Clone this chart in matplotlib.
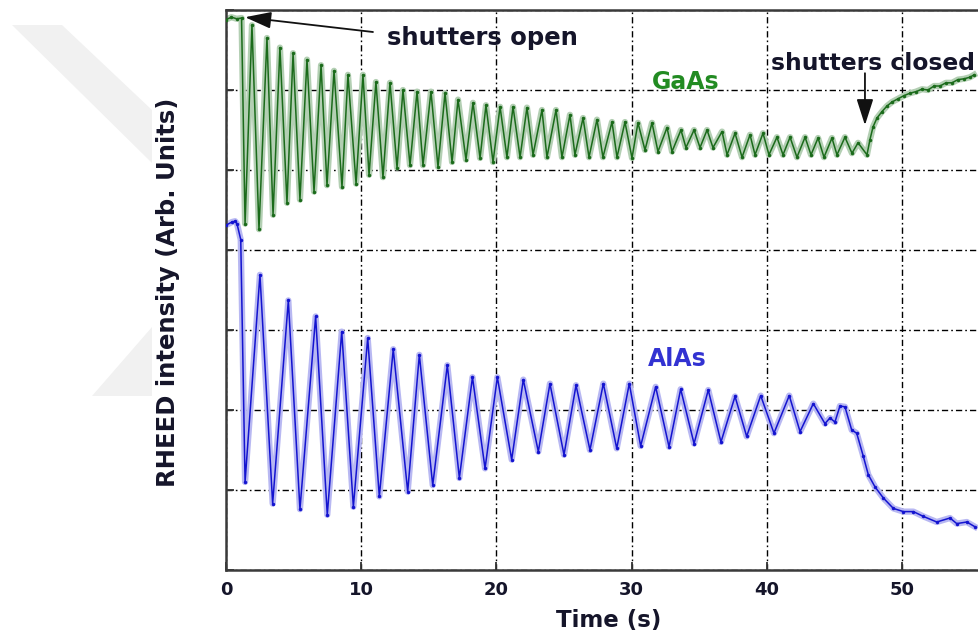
import matplotlib
matplotlib.use("Agg")
import matplotlib.pyplot as plt
from matplotlib.patches import Polygon

# RHEED traces (time in s, intensity in arb. units)
gaas_t = [0.00, 0.40, 0.80, 1.15, 1.41, 1.92, 2.44, 3.03, 3.48, 3.99,
          4.51, 4.96, 5.47, 5.99, 6.51, 7.03, 7.47, 7.99, 8.58, 9.02,
          9.62, 10.13, 10.58, 11.09, 11.61, 12.13, 12.65, 13.09, 13.61, 14.13,
          14.57, 15.16, 15.68, 16.20, 16.72, 17.16, 17.75, 18.27, 18.79, 19.23,
          19.75, 20.27, 20.78, 21.23, 21.75, 22.26, 22.71, 23.37, 23.74, 24.41,
          24.85, 25.44, 25.81, 26.41, 26.85, 27.44, 27.88, 28.55, 28.92, 29.51,
          30.03, 30.47, 30.99, 31.51, 31.95, 32.62, 32.99, 33.65, 34.02, 34.62,
          35.06, 35.58, 36.02, 36.69, 37.06, 37.65, 38.17, 38.76, 39.13, 39.72,
          40.16, 40.75, 41.20, 41.72, 42.23, 42.83, 43.27, 43.79, 44.23, 44.82,
          45.19, 45.78, 46.30, 46.75, 47.41, 47.63, 47.86, 48.15, 48.52, 48.89,
          49.26, 49.70, 50.15, 50.59, 51.04, 51.48, 51.92, 52.37, 52.81, 53.25,
          53.70, 54.14, 54.59, 55.03, 55.33]
gaas_v = [6.88, 6.91, 6.89, 6.90, 4.33, 6.81, 4.26, 6.65, 4.44, 6.53,
          4.59, 6.46, 4.63, 6.38, 4.73, 6.31, 4.81, 6.24, 4.79, 6.19,
          4.83, 6.19, 4.94, 6.10, 4.91, 6.09, 5.03, 6.00, 5.06, 5.98,
          5.06, 5.98, 5.04, 5.96, 5.10, 5.88, 5.13, 5.84, 5.15, 5.81,
          5.10, 5.79, 5.16, 5.79, 5.16, 5.78, 5.19, 5.75, 5.16, 5.75,
          5.16, 5.69, 5.19, 5.65, 5.16, 5.63, 5.16, 5.60, 5.16, 5.60,
          5.15, 5.59, 5.25, 5.59, 5.23, 5.53, 5.23, 5.50, 5.28, 5.50,
          5.28, 5.50, 5.28, 5.48, 5.19, 5.46, 5.16, 5.44, 5.19, 5.46,
          5.19, 5.41, 5.19, 5.41, 5.16, 5.41, 5.19, 5.40, 5.16, 5.40,
          5.19, 5.41, 5.21, 5.34, 5.19, 5.38, 5.54, 5.65, 5.73, 5.80,
          5.85, 5.89, 5.93, 5.96, 5.98, 6.01, 6.00, 6.05, 6.05, 6.09,
          6.09, 6.13, 6.14, 6.16, 6.19]

alas_t = [0.00, 0.44, 0.67, 0.81, 1.09, 1.41, 2.51, 3.45, 4.61, 5.47,
          6.63, 7.49, 8.56, 9.42, 10.48, 11.34, 12.37, 13.44, 14.30, 15.29,
          16.37, 17.26, 18.23, 19.16, 20.07, 21.13, 21.99, 23.10, 23.96, 25.00,
          25.89, 26.92, 27.91, 28.90, 29.83, 30.67, 31.78, 32.77, 33.63, 34.62,
          35.67, 36.61, 37.65, 38.51, 39.55, 40.53, 41.66, 42.46, 43.44, 44.30,
          44.67, 45.04, 45.41, 45.78, 46.28, 46.65, 47.14, 47.51, 48.00, 48.62,
          49.36, 50.10, 50.84, 51.58, 52.57, 53.55, 54.05, 54.79, 55.40]
alas_v = [4.31, 4.35, 4.36, 4.33, 4.13, 1.10, 3.69, 0.83, 3.37, 0.76,
          3.17, 0.69, 2.98, 0.79, 2.90, 0.92, 2.76, 0.98, 2.69, 1.06,
          2.56, 1.15, 2.41, 1.27, 2.41, 1.38, 2.38, 1.48, 2.33, 1.44,
          2.31, 1.50, 2.33, 1.52, 2.33, 1.55, 2.29, 1.54, 2.26, 1.58,
          2.25, 1.60, 2.17, 1.67, 2.18, 1.71, 2.18, 1.73, 2.08, 1.83,
          1.90, 1.85, 2.05, 2.04, 1.75, 1.71, 1.42, 1.19, 1.04, 0.90,
          0.77, 0.73, 0.73, 0.67, 0.60, 0.65, 0.58, 0.60, 0.54]

x_ticks = [0, 10, 20, 30, 40, 50, 60]
x_labels = ['0', '10', '20', '30', '40', '50', '']
y_ticks = [0, 1, 2, 3, 4, 5, 6, 7]

W, H = 979, 636
TXT = '#15152a'
fig = plt.figure(figsize=(W / 100, H / 100), dpi=100)


def fpos(x, y):
    return (x / W, 1 - y / H)


# faint watermark shapes on the left
for pts in ([(12, 25), (62, 25), (152, 110), (152, 163)],
            [(152, 327), (92, 396), (152, 396)]):
    fig.patches.append(Polygon([fpos(*p) for p in pts], closed=True,
                               transform=fig.transFigure, facecolor='#f1f1f1',
                               edgecolor='none', zorder=0))

# axes run past the right edge of the picture, like the cropped original
ax = fig.add_axes([226 / W, 1 - 570 / H, 60 * 13.52 / W, 560 / H])
ax.set_xlim(0, 60)
ax.set_ylim(0, 7)

ax.plot(gaas_t, gaas_v, color='#b3cfb3', lw=4.5, solid_joinstyle='round', zorder=2)
ax.plot(gaas_t, gaas_v, color='#1b6b1b', lw=1.1, marker='.', ms=3, zorder=3)
ax.plot(alas_t, alas_v, color='#b8b8f2', lw=4.5, solid_joinstyle='round', zorder=2)
ax.plot(alas_t, alas_v, color='#1414d0', lw=1.1, marker='.', ms=3, zorder=3)

ax.set_xticks(x_ticks)
ax.set_xticklabels(x_labels, fontweight='bold')
ax.set_yticks(y_ticks)
ax.set_yticklabels([])
ax.grid(True, color='black', lw=1.0, linestyle=(0, (4.5, 2.2, 1.2, 2.2)))
ax.set_axisbelow(True)
ax.tick_params(axis='both', direction='in', length=6, width=1.3, colors='#333333')
ax.tick_params(axis='x', pad=8, labelsize=13, labelcolor=TXT)
for s in ax.spines.values():
    s.set_linewidth(1.8)
    s.set_color('#3a3a3a')

arrow = dict(arrowstyle='-|>,head_length=1.0,head_width=0.32', color='#111111',
             lw=1.3, mutation_scale=16, shrinkA=0, shrinkB=0)
ax.annotate('', xy=(1.41, 6.91), xytext=(10.87, 6.725), arrowprops=arrow)
ax.annotate('', xy=(47.26, 5.56), xytext=(47.26, 6.21), arrowprops=arrow)

ax.text(11.9, 6.56, 'shutters open', fontsize=17.5, fontweight='bold',
        color=TXT, va='baseline')
ax.text(40.31, 6.25, 'shutters closed', fontsize=16.8, fontweight='bold',
        color=TXT, va='baseline')
ax.text(31.5, 6.01, 'GaAs', fontsize=17, fontweight='bold',
        color='#228b22', va='baseline')
ax.text(31.2, 2.55, 'AlAs', fontsize=17, fontweight='bold',
        color='#3232d2', va='baseline')

fig.text(*fpos(168, 292), 'RHEED intensity (Arb. Units)', rotation=90,
         ha='center', va='center', fontsize=17.5, fontweight='bold', color=TXT)
fig.text(*fpos(609, 620), 'Time (s)', ha='center', va='center',
         fontsize=16.5, fontweight='bold', color=TXT)

fig.savefig('out.png', dpi=100)
